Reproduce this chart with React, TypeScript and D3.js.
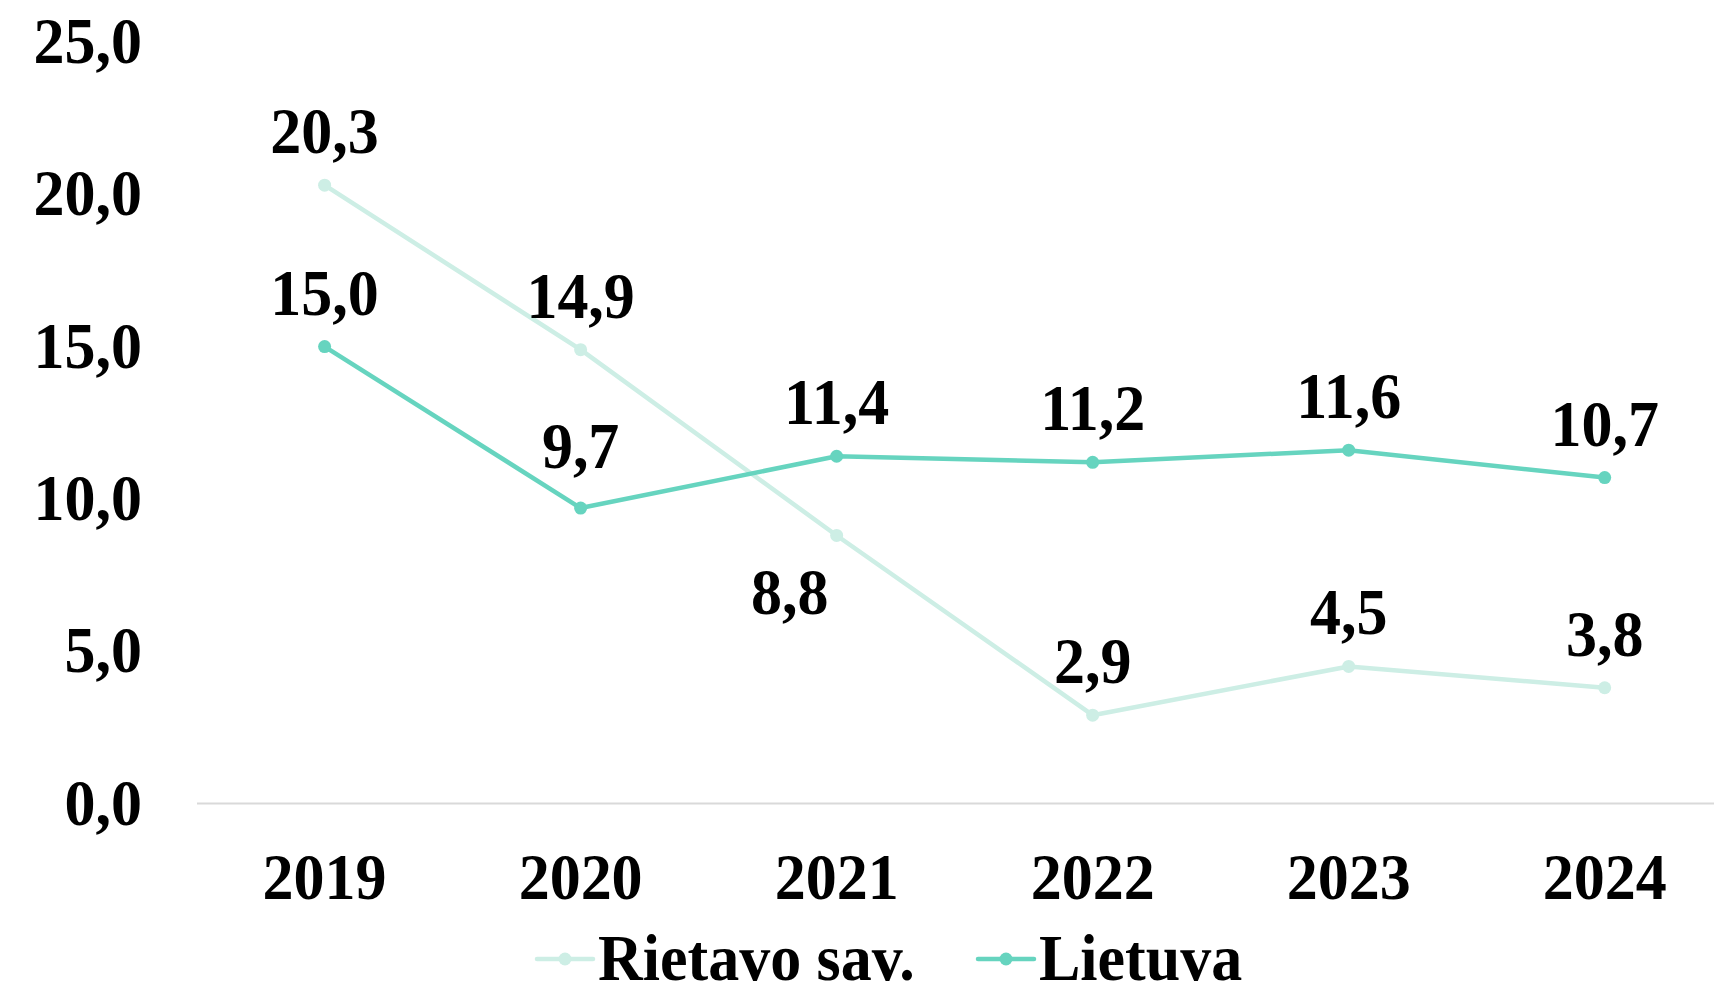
import React from "react";
import * as d3 from "d3";

const years = ["2019", "2020", "2021", "2022", "2023", "2024"];
const rietavo = [20.3, 14.9, 8.8, 2.9, 4.5, 3.8];
const lietuva = [15.0, 9.7, 11.4, 11.2, 11.6, 10.7];
const yTicks = [0, 5, 10, 15, 20, 25];
const seriesNames = ["Rietavo sav.", "Lietuva"];
const seriesColors = ["#cdeee5", "#66d4bf"];

const W = 1714;
const H = 997;
const FONT = "'Liberation Serif', 'Times New Roman', serif";
const FS = 62;
const SY = 1.06;

// label offsets (dx, dy of baseline from point), per series per point
const labelOffsets: [number, number][][] = [
  [[0, -32], [0, -32], [-47, 79], [0, -32], [0, -32], [0, -32]],
  [[0, -32], [0, -40], [0, -32], [0, -32], [0, -32], [0, -32]],
];

const fmt = (v: number) => v.toFixed(1).replace(".", ",");

function T({ x, y, anchor, children }: { x: number; y: number; anchor: string; children: React.ReactNode }) {
  return (
    <text transform={`translate(${x},${y}) scale(1,${SY})`} textAnchor={anchor} fontSize={FS} fill="#000">
      {children}
    </text>
  );
}

export default function App() {
  const x = d3.scalePoint<string>().domain(years).range([196.6, 1732.7]).padding(0.5);
  const y = d3.scaleLinear().domain([0, 25]).range([803.5, 42]);
  const series = [rietavo, lietuva];
  const line = d3
    .line<number>()
    .x((_, i) => x(years[i]) as number)
    .y((d) => y(d));

  const legendItems = [
    { sym: 537, text: 598 },
    { sym: 978, text: 1039 },
  ];
  const legendY = 959;

  return (
    <svg
      width={W}
      height={H}
      style={{ position: "absolute", left: 0, top: 0, background: "#fff" }}
      fontFamily={FONT}
      fontWeight="bold"
    >
      <line x1={197} x2={W} y1={y(0)} y2={y(0)} stroke="#d9d9d9" strokeWidth={2} />
      {yTicks.map((t) => (
        <T key={t} x={142} y={y(t) + 21} anchor="end">
          {fmt(t)}
        </T>
      ))}
      {years.map((yr) => (
        <T key={yr} x={x(yr) as number} y={899} anchor="middle">
          {yr}
        </T>
      ))}
      {series.map((s, si) => (
        <g key={si}>
          <path d={line(s) || ""} fill="none" stroke={seriesColors[si]} strokeWidth={4.5} strokeLinejoin="round" />
          {s.map((v, i) => (
            <circle key={i} cx={x(years[i])} cy={y(v)} r={6.5} fill={seriesColors[si]} />
          ))}
        </g>
      ))}
      {series.map((s, si) =>
        s.map((v, i) => (
          <T
            key={`l${si}-${i}`}
            x={(x(years[i]) as number) + labelOffsets[si][i][0]}
            y={y(v) + labelOffsets[si][i][1]}
            anchor="middle"
          >
            {fmt(v)}
          </T>
        ))
      )}
      {legendItems.map((li, i) => (
        <g key={i}>
          <line x1={li.sym} x2={li.sym + 56} y1={legendY} y2={legendY} stroke={seriesColors[i]} strokeWidth={4.5} strokeLinecap="round" />
          <circle cx={li.sym + 28} cy={legendY} r={6.5} fill={seriesColors[i]} />
          <T x={li.text} y={legendY + 21} anchor="start">
            {seriesNames[i]}
          </T>
        </g>
      ))}
    </svg>
  );
}
